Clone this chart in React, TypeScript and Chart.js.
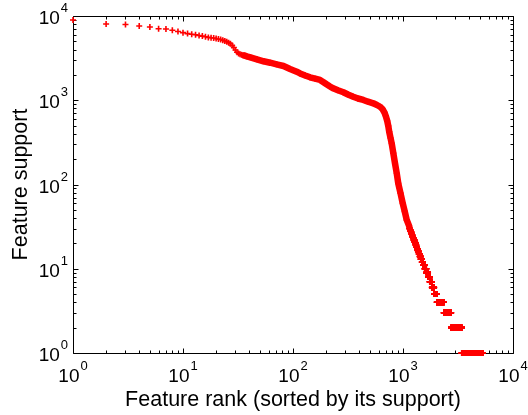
import React, { useEffect, useRef } from 'react';
import { Chart, registerables } from 'chart.js';

Chart.register(...registerables);

// Support of the top-ranked features, rank 1..35 (one value per rank)
const headSupport = [
  8970, 8040, 7930, 7600, 7400, 7060, 7010, 6770, 6550, 6340,
  6180, 6080, 5990, 5870, 5770, 5665, 5570, 5510, 5470, 5395,
  5335, 5260, 5160, 5060, 4940, 4820, 4700, 4465, 4230, 3950,
  3715, 3590, 3520, 3464, 3430,
];

// Dense middle of the curve, read at sample ranks
const bodyRanks = [
  36, 38, 41, 47, 54, 62, 71, 82, 94, 108,
  116, 129, 143, 159, 176, 188, 202, 217, 232, 256,
  287, 316, 353, 390, 436, 481, 537, 580, 618, 651,
  679, 700, 719, 735, 750, 770, 789, 816, 846, 877,
  906, 949, 994, 1036, 1081, 1138,
];
const bodySupport = [
  3400, 3325, 3234, 3063, 2900, 2790, 2671, 2550, 2350, 2183,
  2078, 1967, 1873, 1803, 1740, 1647, 1546, 1457, 1386, 1312,
  1243, 1170, 1102, 1049, 1007, 961, 920, 878, 838, 787,
  715, 641, 567, 495, 420, 357, 308, 236, 178, 136,
  103, 79, 60, 48, 38, 32,
];

// Integer support levels of the tail and the first rank holding each level
const levelSupports = [
  30, 29, 28, 27, 26, 25, 24, 23, 22, 21,
  20, 19, 18, 17, 16, 15, 14, 13, 12, 11,
  10, 9, 8, 7, 6, 5, 4, 3, 2, 1,
];
const levelFirstRanks = [
  1145, 1157, 1168, 1180, 1193, 1206, 1219, 1233, 1250, 1270,
  1289, 1305, 1322, 1343, 1366, 1392, 1420, 1450, 1484, 1520,
  1575, 1630, 1690, 1750, 1830, 1920, 2030, 2350, 2740, 3420,
];
const lastRank = 5300;

const decadeExponents = [0, 1, 2, 3, 4];
const xTitle = 'Feature rank (sorted by its support)';
const yTitle = 'Feature support';

const FONT = "'Liberation Sans', Arial, Helvetica, sans-serif";

const axesPlugin = {
  id: 'matlabAxes',
  beforeDatasetsDraw(chart: any) {
    const { ctx, chartArea: a } = chart;
    const xs = chart.scales.x;
    const ys = chart.scales.y;
    ctx.save();
    ctx.strokeStyle = '#000';
    ctx.lineWidth = 1;
    const L = Math.round(a.left) + 0.5;
    const R = Math.round(a.right) + 0.5;
    const T = Math.round(a.top) + 0.5;
    const B = Math.round(a.bottom) + 0.5;
    ctx.beginPath();
    ctx.rect(L, T, R - L, B - T);
    ctx.stroke();
    ctx.beginPath();
    for (const e of decadeExponents) {
      for (let m = 1; m <= 9; m++) {
        const v = m * Math.pow(10, e);
        if (v > 10000) break;
        const len = m === 1 ? 5 : 3;
        const px = Math.round(xs.getPixelForValue(v)) + 0.5;
        ctx.moveTo(px, B); ctx.lineTo(px, B - len);
        ctx.moveTo(px, T); ctx.lineTo(px, T + len);
        const py = Math.round(ys.getPixelForValue(v)) + 0.5;
        ctx.moveTo(L, py); ctx.lineTo(L + len, py);
        ctx.moveTo(R, py); ctx.lineTo(R - len, py);
      }
    }
    ctx.stroke();
    ctx.restore();
  },
  afterDraw(chart: any) {
    const { ctx, chartArea: a } = chart;
    const xs = chart.scales.x;
    const ys = chart.scales.y;
    ctx.save();
    ctx.fillStyle = '#000';
    ctx.textAlign = 'left';
    ctx.textBaseline = 'alphabetic';
    const baseFont = `19px ${FONT}`;
    const expFont = `13px ${FONT}`;
    for (const e of decadeExponents) {
      const v = Math.pow(10, e);
      ctx.font = baseFont;
      const w10 = ctx.measureText('10').width;
      ctx.font = expFont;
      const we = ctx.measureText(String(e)).width;
      // x axis label
      const px = xs.getPixelForValue(v);
      const x0 = px - (w10 + we + 1) / 2;
      ctx.font = baseFont;
      ctx.fillText('10', x0, 382);
      ctx.font = expFont;
      ctx.fillText(String(e), x0 + w10 + 1, 370);
      // y axis label
      const py = ys.getPixelForValue(v);
      const xr = 68;
      ctx.font = expFont;
      ctx.fillText(String(e), xr - we, py - 4);
      ctx.font = baseFont;
      ctx.fillText('10', xr - we - 1 - w10, py + 8);
    }
    ctx.font = `21.5px ${FONT}`;
    ctx.textAlign = 'center';
    ctx.fillText(xTitle, (a.left + a.right) / 2, 406);
    ctx.translate(27, (a.top + a.bottom) / 2);
    ctx.rotate(-Math.PI / 2);
    ctx.fillText(yTitle, 0, 0);
    ctx.restore();
  },
};

export default function App() {
  const ref = useRef<HTMLCanvasElement>(null);
  useEffect(() => {
    if (!ref.current) return;
    const headPts = headSupport.map((s, i) => ({ x: i + 1, y: s }));
    const bodyPts = bodyRanks.map((r, i) => ({ x: r, y: bodySupport[i] }));
    const levelPts: { x: number; y: number }[] = [];
    levelFirstRanks.forEach((first, i) => {
      const last = i + 1 < levelFirstRanks.length ? levelFirstRanks[i + 1] - 1 : lastRank;
      for (let r = first; r <= last; r++) levelPts.push({ x: r, y: levelSupports[i] });
    });
    const red = '#ff0000';
    const markerStyle = {
      showLine: false,
      pointStyle: 'cross' as const,
      pointRadius: 3,
      pointBorderWidth: 1.6,
      pointBorderColor: red,
      pointBackgroundColor: red,
      borderColor: red,
      backgroundColor: red,
      clip: false as const,
    };
    const chart = new Chart(ref.current, {
      type: 'scatter',
      data: {
        datasets: [
          { data: headPts, ...markerStyle },
          {
            data: bodyPts,
            ...markerStyle,
            showLine: true,
            borderWidth: 6.5,
            borderJoinStyle: 'round',
            borderCapStyle: 'round',
            tension: 0,
          },
          { data: levelPts, ...markerStyle },
        ],
      },
      options: {
        animation: false,
        responsive: false,
        events: [],
        layout: { padding: { left: 73, top: 16, right: 15, bottom: 62 } },
        scales: {
          x: { type: 'logarithmic', min: 1, max: 10000, display: false },
          y: { type: 'logarithmic', min: 1, max: 10000, display: false },
        },
        plugins: { legend: { display: false }, tooltip: { enabled: false } },
      },
      plugins: [axesPlugin],
    });
    return () => chart.destroy();
  }, []);
  return (
    <div style={{ position: 'absolute', left: 0, top: 0, width: 528, height: 415, background: '#fff' }}>
      <canvas ref={ref} width={528} height={415} style={{ display: 'block', width: 528, height: 415 }} />
    </div>
  );
}
